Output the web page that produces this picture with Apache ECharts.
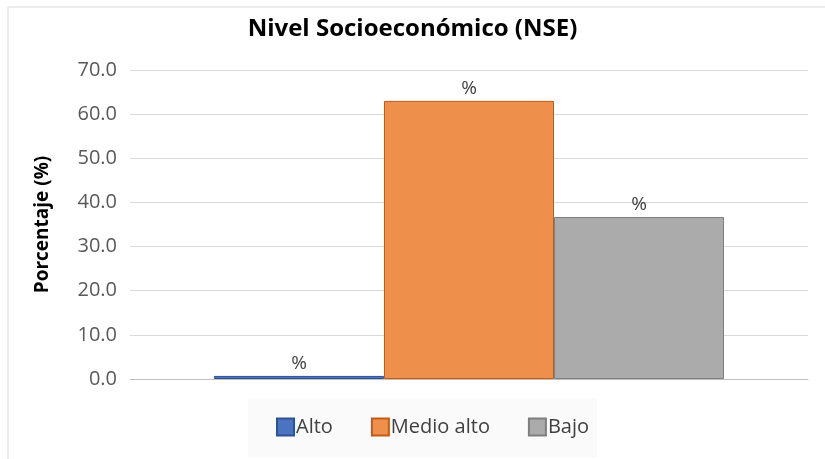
<!DOCTYPE html>
<html>
<head>
<meta charset="utf-8">
<script src="https://cdn.jsdelivr.net/npm/echarts@6/dist/echarts.min.js"></script>
<style>
  html, body { margin: 0; padding: 0; background: #fff; }
  #chart { width: 825px; height: 459px; }
</style>
</head>
<body>
<div id="chart"></div>
<script>
const categories = [''];
const seriesNames = ['Alto', 'Medio alto', 'Bajo'];
const altoValues = [0.7];
const medioAltoValues = [63.0];
const bajoValues = [36.7];
const yTicks = [0, 10, 20, 30, 40, 50, 60, 70];

const fills = ['#4A74C2', '#EF8F4C', '#ABABAB'];
const borders = ['#2F528F', '#C55A11', '#7F7F7F'];
const seriesData = [altoValues, medioAltoValues, bajoValues];

const myChart = echarts.init(document.getElementById('chart'));

const option = {
  animation: false,
  textStyle: { fontFamily: 'Open Sans, sans-serif' },
  graphic: [{
    type: 'rect',
    shape: { x: 8, y: 7, width: 830, height: 470 },
    style: { fill: 'none', stroke: '#D9D9D9', lineWidth: 1 },
    silent: true
  }],
  title: {
    text: 'Nivel Socioeconómico (NSE)',
    left: 'center',
    top: 12,
    textStyle: { fontSize: 24, fontWeight: 'bold', color: '#000', fontFamily: 'Open Sans, sans-serif' }
  },
  legend: {
    data: seriesNames,
    icon: 'rect',
    bottom: 2,
    left: 248,
    itemWidth: 17,
    itemHeight: 17,
    itemGap: 38,
    padding: [18, 8, 20, 28],
    backgroundColor: '#FAFAFA',
    textStyle: { fontSize: 20, color: '#404040', padding: [0, 0, 0, -3] }
  },
  grid: { left: 130, right: 17, top: 70, bottom: 80 },
  xAxis: {
    type: 'category',
    data: categories,
    axisLine: { lineStyle: { color: '#BFBFBF' } },
    axisTick: { show: false },
    axisLabel: { show: false }
  },
  yAxis: {
    type: 'value',
    min: yTicks[0],
    max: yTicks[yTicks.length - 1],
    interval: 10,
    name: 'Porcentaje (%)',
    nameLocation: 'middle',
    nameGap: 78,
    nameTextStyle: { fontSize: 19, fontWeight: 'bold', color: '#000' },
    axisLine: { show: false },
    axisTick: { show: false },
    axisLabel: { fontSize: 20, color: '#595959', margin: 13, formatter: v => v.toFixed(1) },
    splitLine: { lineStyle: { color: '#D9D9D9' } }
  },
  series: seriesNames.map((name, i) => ({
    name: name,
    type: 'bar',
    data: seriesData[i],
    barWidth: 170,
    barGap: '0%',
    itemStyle: { color: fills[i], borderColor: borders[i], borderWidth: 1 },
    label: {
      show: true,
      position: 'top',
      distance: 3,
      formatter: '%',
      fontSize: 19,
      color: '#404040'
    }
  }))
};

myChart.setOption(option);
</script>
</body>
</html>
